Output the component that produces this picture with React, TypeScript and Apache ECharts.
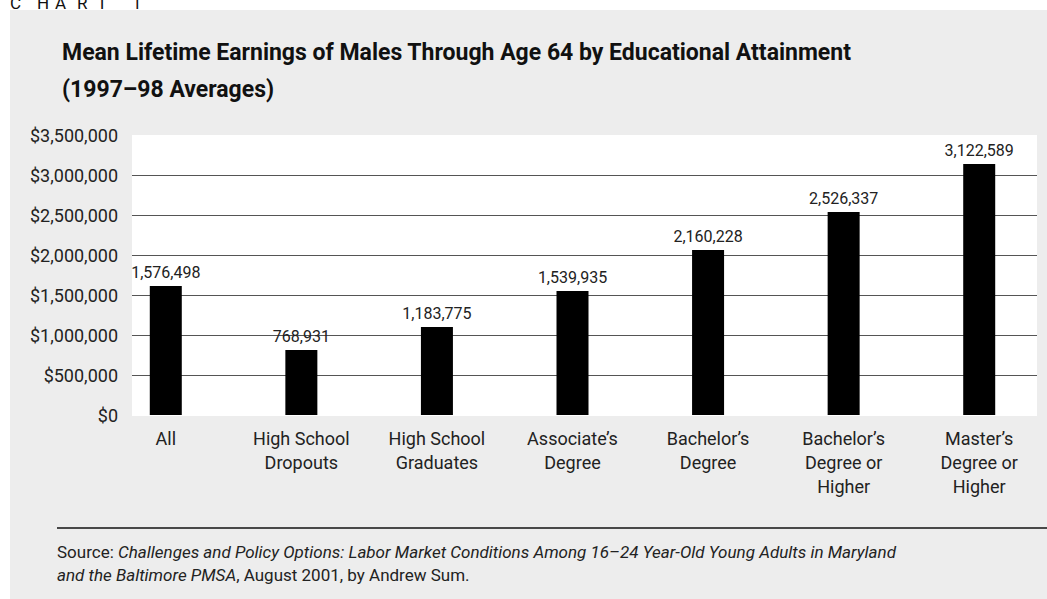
import React, { useEffect, useRef } from 'react';
import * as echarts from 'echarts';

const categories = [
  'All',
  'High School\nDropouts',
  'High School\nGraduates',
  'Associate’s\nDegree',
  'Bachelor’s\nDegree',
  'Bachelor’s\nDegree or\nHigher',
  'Master’s\nDegree or\nHigher',
];
// bar heights as drawn in the picture
const barHeights = [1612000, 812000, 1100000, 1550000, 2062000, 2537000, 3137000];
// numbers printed above the bars
const printedValues = [1576498, 768931, 1183775, 1539935, 2160228, 2526337, 3122589];

const yMin = 0;
const yMax = 3500000;
const yStep = 500000;

const titleText = 'Mean Lifetime Earnings of Males Through Age 64 by Educational Attainment\n(1997–98 Averages)';
const chartLabel = ['C', 'H', 'A', 'R', 'T', '1'];

export default function App() {
  const ref = useRef<HTMLDivElement>(null);
  useEffect(() => {
    const chart = echarts.init(ref.current!, null, { renderer: 'svg' });
    const font = 'Roboto, "Open Sans", sans-serif';
    const fmt = (v: number) => v.toLocaleString('en-US');
    const letterX = [10, 37, 55, 77, 97, 132];
    chart.setOption({
      animation: false,
      backgroundColor: '#ededed',
      textStyle: { fontFamily: font },
      title: {
        left: 57,
        top: 29,
        text: titleText,
        textStyle: { fontFamily: font, fontSize: 23, fontWeight: 'bold', lineHeight: 37, color: '#111' },
      },
      grid: [
        { left: 132, right: 10, top: 135, bottom: 184, show: true, backgroundColor: '#fff', borderWidth: 0 },
        { left: 98, width: 956, top: 135, bottom: 184 },
      ],
      xAxis: [
        { gridIndex: 0, type: 'category', data: categories, show: false },
        {
          gridIndex: 1,
          type: 'category',
          data: categories,
          axisLine: { show: false },
          axisTick: { show: false },
          axisLabel: { fontFamily: font, fontSize: 18, lineHeight: 24, color: '#222', margin: 11, interval: 0 },
        },
      ],
      yAxis: [
        {
          gridIndex: 0,
          type: 'value',
          min: yMin,
          max: yMax,
          interval: yStep,
          axisLine: { show: false },
          axisTick: { show: false },
          axisLabel: { fontFamily: font, fontSize: 18, color: '#222', margin: 14, formatter: (v: number) => '$' + fmt(v) },
          splitLine: {
            show: true,
            lineStyle: { color: ['#ffffff', '#555', '#555', '#555', '#555', '#555', '#555', '#ffffff'], width: 1.2 },
          },
        },
        { gridIndex: 1, type: 'value', min: yMin, max: yMax, interval: yStep, show: false, splitLine: { show: false } },
      ],
      series: [
        {
          type: 'bar',
          xAxisIndex: 1,
          yAxisIndex: 1,
          data: barHeights,
          barWidth: 32,
          itemStyle: { color: '#000' },
          label: {
            show: true,
            position: 'top',
            distance: 6,
            fontFamily: font,
            fontSize: 16,
            color: '#222',
            formatter: (p: any) => fmt(printedValues[p.dataIndex]),
          },
        },
      ],
      graphic: [
        { type: 'rect', shape: { x: 0, y: 0, width: 1047, height: 10 }, style: { fill: '#fff' }, silent: true },
        { type: 'rect', shape: { x: 0, y: 0, width: 10, height: 599 }, style: { fill: '#fff' }, silent: true },
        ...chartLabel.map((c, i) => ({
          type: 'text',
          x: letterX[i],
          y: 3,
          style: { text: c, fontFamily: font, fontSize: 17, fill: '#111', verticalAlign: 'middle' },
          silent: true,
        })),
        { type: 'line', shape: { x1: 57, y1: 528, x2: 1047, y2: 528 }, style: { stroke: '#111', lineWidth: 1.5 }, silent: true },
        {
          type: 'text',
          x: 57,
          y: 540,
          style: {
            text:
              '{n|Source: }{i|Challenges and Policy Options: Labor Market Conditions Among 16–24 Year-Old Young Adults in Maryland}\n{i|and the Baltimore PMSA}{n|, August 2001, by Andrew Sum.}',
            fontFamily: font,
            fontSize: 17,
            lineHeight: 23,
            fill: '#222',
            rich: {
              n: { fontFamily: font, fontSize: 17, lineHeight: 23, fill: '#222' },
              i: { fontFamily: font, fontSize: 17, lineHeight: 23, fill: '#222', fontStyle: 'italic' },
            },
          },
          silent: true,
        },
      ],
    });
    return () => chart.dispose();
  }, []);
  return <div ref={ref} style={{ position: 'absolute', left: 0, top: 0, width: 1047, height: 599 }} />;
}
